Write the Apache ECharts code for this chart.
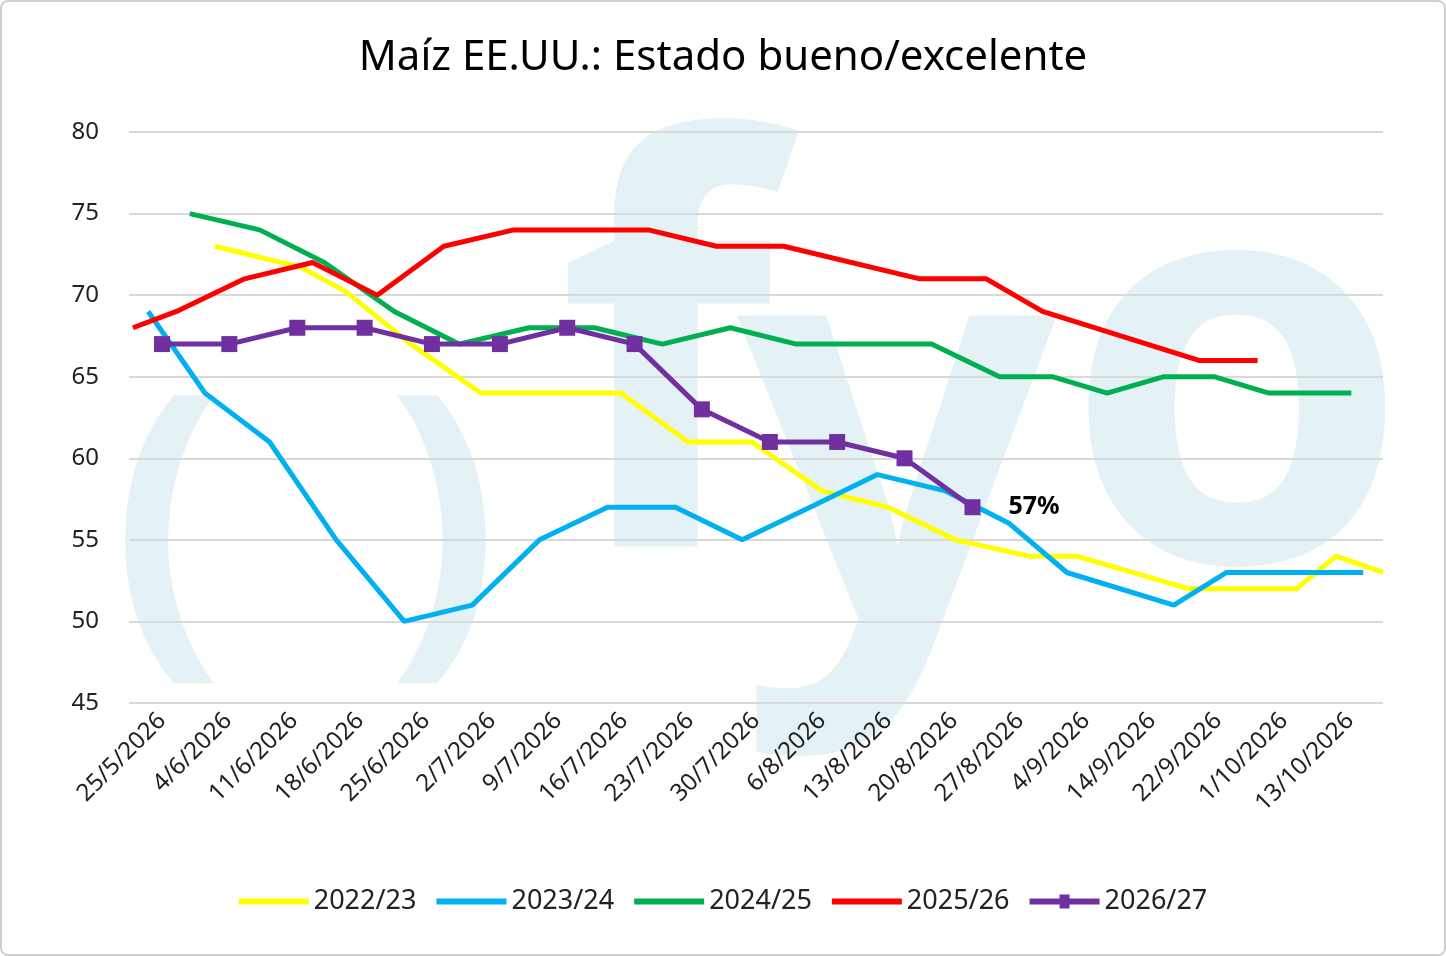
<!DOCTYPE html>
<html><head><meta charset="utf-8">
<script src="https://cdn.jsdelivr.net/npm/echarts@6/dist/echarts.min.js"></script>
<style>html,body{margin:0;padding:0;background:#fff}#c{width:1446px;height:956px;box-sizing:border-box;border:2px solid #d0d0d0;border-radius:8px}</style>
</head><body><div id="c"></div>
<script>
const categories=["25/5/2026","4/6/2026","11/6/2026","18/6/2026","25/6/2026","2/7/2026","9/7/2026","16/7/2026","23/7/2026","30/7/2026","6/8/2026","13/8/2026","20/8/2026","27/8/2026","4/9/2026","14/9/2026","22/9/2026","1/10/2026","13/10/2026"];
const yTicks=[45,50,55,60,65,70,75,80];
const s2223=[[0.80,73],[2.11,71.7],[2.79,70.2],[3.77,67],[4.83,64],[6.95,64],[7.97,61],[8.94,61],[10.0,58],[11.0,57],[12.02,55],[13.14,54],[13.86,54],[15.56,52],[17.19,52],[17.79,54],[18.5,53]];
const s2324=[[-0.21,69],[0.65,64],[1.63,61],[2.64,55],[3.67,50],[4.70,51],[5.72,55],[6.75,57],[7.78,57],[8.79,55],[9.82,57],[10.84,59],[11.87,58],[12.84,56],[13.71,53],[15.33,51],[16.13,53],[18.2,53]];
const s2425=[[0.42,75],[1.48,74],[2.46,72],[3.52,69],[4.50,67],[5.56,68],[6.55,68],[7.58,67],[8.61,68],[9.61,67],[10.63,67],[11.66,67],[12.69,65],[13.49,65],[14.32,64],[15.18,65],[15.94,65],[16.77,64],[18.02,64]];
const s2526=[[-0.44,68],[0.22,69],[1.25,71],[2.28,72],[3.26,70],[4.27,73],[5.33,74],[6.34,74],[7.37,74],[8.40,73],[9.42,73],[11.48,71],[12.49,71],[13.34,69],[15.71,66],[16.6,66]];
const s2627=[[0,67],[1.02,67],[2.05,68],[3.07,68],[4.09,67],[5.12,67],[6.14,68],[7.16,67],[8.18,63],[9.21,61],[10.23,61],[11.25,60],[12.28,57]];
const F='"Noto Sans", sans-serif';
const W='#e4f2f6';
const ch=echarts.init(document.getElementById('c'));
function ln(name,data,color,extra){return Object.assign({name,type:'line',data,xAxisIndex:1,symbol:'none',lineStyle:{width:5,color},itemStyle:{color},z:3},extra||{});}
const lineIcon='path://M0,0h70v6h-70z';
function glyph(t,l,tp,sz){return {type:'text',left:l,top:tp,z:-10,style:{text:t,font:'bold '+sz+'px "Noto Sans"',fill:W}};}
ch.setOption({
 animation:false,
 graphic:[glyph('(',110,370,330),glyph(')',385,370,330),glyph('f',555,105,560),glyph('y',735,180,560),glyph('o',1060,120,560)],
 title:{text:'Maíz EE.UU.: Estado bueno/excelente',left:'center',top:30,textStyle:{fontFamily:F,fontSize:42,fontWeight:'normal',color:'#000'}},
 grid:{left:127,right:61,top:130,bottom:251},
 legend:{bottom:34,left:'center',itemWidth:70,itemHeight:14,itemGap:20,textStyle:{fontFamily:F,fontSize:27,color:'#222'},
   data:[{name:'2022/23',icon:lineIcon},{name:'2023/24',icon:lineIcon},{name:'2024/25',icon:lineIcon},{name:'2025/26',icon:lineIcon},{name:'2026/27',icon:'path://M0,4h30v-4h10v4h30v6h-30v4h-10v-4h-30z'}]},
 xAxis:[{type:'category',data:categories,boundaryGap:true,axisLine:{show:false},axisTick:{show:false},
   axisLabel:{rotate:45,interval:0,fontFamily:F,fontSize:24,color:'#222',margin:14}},
  {type:'value',min:-0.5,max:18.5,show:false}],
 yAxis:{type:'value',min:45,max:80,interval:5,axisLine:{show:false},axisTick:{show:false},
   splitLine:{lineStyle:{color:'#d9d9d9',width:2}},axisLabel:{fontFamily:F,fontSize:24,color:'#222',margin:30}},
 series:[ln('2022/23',s2223,'#ffff00'),ln('2023/24',s2324,'#00b0f0'),ln('2024/25',s2425,'#00b050'),ln('2025/26',s2526,'#ff0000'),
  ln('2026/27',s2627,'#7030a0',{symbol:'rect',symbolSize:16,z:5,
   label:{show:true,position:'right',distance:28,fontFamily:F,fontSize:25,fontWeight:'bold',color:'#000',
    formatter:p=>p.dataIndex===s2627.length-1?p.value[1]+'%':''}})]
});
</script></body></html>
